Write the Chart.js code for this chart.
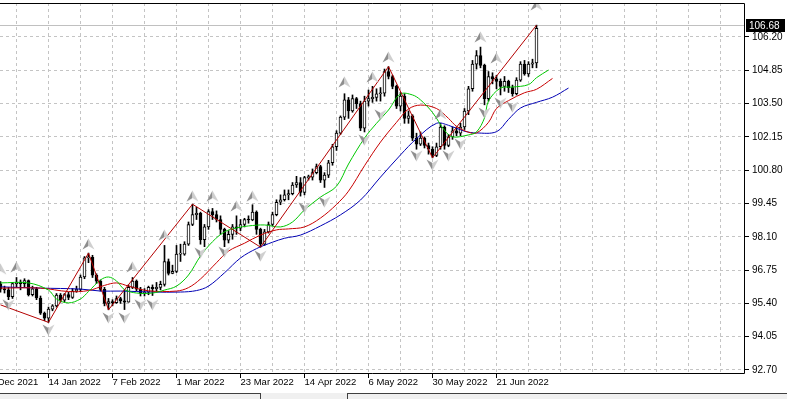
<!DOCTYPE html>
<html><head><meta charset="utf-8">
<script src="https://cdn.jsdelivr.net/npm/chart.js@4"></script>
<style>html,body{margin:0;padding:0;background:#fff;overflow:hidden}</style>
</head><body>
<canvas id="c" width="787" height="399" style="display:block"></canvas>
<script>
// ---- data ----
const dateLabels = ['23 Dec 2021','14 Jan 2022','7 Feb 2022','1 Mar 2022','23 Mar 2022','14 Apr 2022','6 May 2022','30 May 2022','21 Jun 2022'];
const labelBars = [-4,12,28,44,60,76,92,108,124];
const gridBars = [-4,4,12,20,28,36,44,52,60,68,76,84,92,100,108,116,124,132,140,148,156,164,172,180];
const priceTicks = [92.70,94.05,95.40,96.75,98.10,99.45,100.80,102.15,103.50,104.85,106.20];
const lastPrice = 106.68;

const opens = [96.19,95.98,95.95,95.67,96.20,96.26,96.20,96.32,95.75,95.99,95.62,95.00,94.80,95.17,95.30,95.74,95.53,95.76,95.64,95.90,
95.97,96.47,97.25,97.27,96.54,96.30,95.97,95.40,95.47,95.43,95.60,95.50,95.45,96.05,96.30,95.98,95.80,95.85,96.05,96.00,
96.05,96.17,97.10,96.62,96.70,97.40,97.40,97.80,98.60,99.00,99.05,97.98,98.50,99.12,99.00,98.80,98.40,97.96,98.20,98.50,
98.45,98.60,98.80,98.78,99.10,98.40,97.80,98.30,98.60,99.00,99.50,99.60,99.80,99.85,100.20,100.30,99.90,100.50,100.52,100.70,
100.95,100.40,100.60,101.10,101.75,102.30,102.95,103.65,103.20,103.70,103.50,102.50,103.60,103.70,103.75,103.90,103.92,104.80,104.60,104.20,
103.40,103.80,102.90,103.00,102.10,101.85,102.10,101.80,101.65,101.40,101.75,102.55,101.80,102.15,102.40,102.30,102.55,103.20,104.10,105.10,
105.45,105.05,103.70,104.60,104.50,104.40,104.20,104.40,104.15,103.90,104.45,105.10,104.70,105.10,105.15];
const highs = [96.28,96.10,96.05,96.25,96.45,96.35,96.40,96.35,96.10,96.05,95.70,95.05,95.25,95.35,95.80,95.80,95.80,95.85,96.00,96.10,
96.55,97.30,97.44,97.35,96.60,96.35,96.05,95.60,95.55,95.70,95.65,95.95,96.15,96.45,96.35,96.05,96.00,96.10,96.15,96.25,
96.30,97.75,97.20,96.95,97.75,97.80,97.90,98.70,99.42,99.30,99.10,98.60,99.20,99.25,99.15,98.95,98.45,98.35,98.60,98.95,
98.80,98.85,98.95,99.40,99.15,98.45,98.40,98.70,99.10,99.60,99.80,100.00,100.00,100.30,100.55,100.50,100.55,100.60,100.85,101.05,
101.00,100.70,101.20,101.85,102.40,103.00,103.90,103.75,103.85,103.75,103.60,103.80,104.05,104.20,104.10,104.15,104.90,105.00,104.65,104.25,
103.95,103.90,103.20,103.05,102.30,102.35,102.15,101.90,101.75,101.90,102.70,102.60,102.25,102.55,102.55,102.70,103.30,104.20,105.25,105.65,
105.79,105.10,104.80,104.75,104.65,104.50,104.60,104.45,104.25,104.55,105.20,105.25,105.20,105.30,106.68];
const lows = [95.85,95.82,95.55,95.60,96.05,95.95,96.05,95.70,95.70,95.55,94.95,94.70,94.63,95.10,95.25,95.45,95.45,95.55,95.60,95.85,
95.90,96.40,97.05,96.45,96.20,95.90,95.30,95.14,95.30,95.40,95.40,95.15,95.45,96.00,95.90,95.70,95.70,95.75,95.72,95.90,
95.95,96.10,96.55,96.60,96.65,97.10,97.35,97.75,98.55,98.80,97.80,97.70,98.40,98.80,98.70,98.20,97.70,97.85,98.00,98.20,
98.35,98.50,98.65,98.75,98.20,97.68,97.75,98.25,98.55,98.95,99.40,99.55,99.60,99.80,100.10,99.75,99.80,100.40,100.40,100.65,
100.30,100.10,100.50,101.00,101.60,102.25,102.85,102.90,103.15,103.30,102.40,102.35,103.40,103.55,103.60,103.60,103.80,104.50,104.10,103.30,
103.20,102.70,102.70,102.00,101.65,101.80,101.70,101.45,101.30,101.35,101.65,101.65,101.75,102.05,102.20,102.20,102.45,103.05,104.00,104.90,
104.95,103.45,103.60,104.30,104.10,103.85,104.00,103.95,103.80,103.85,104.40,104.65,104.60,104.95,104.95];
const closes = [95.98,95.95,95.67,96.20,96.26,96.20,96.32,95.75,95.99,95.62,95.00,94.80,95.17,95.30,95.74,95.53,95.76,95.64,95.90,95.97,
96.47,97.25,97.27,96.54,96.30,95.97,95.40,95.47,95.43,95.60,95.50,95.45,96.05,96.30,95.98,95.80,95.85,96.05,96.00,96.05,
96.17,97.10,96.62,96.70,97.40,97.40,97.80,98.60,99.00,99.05,97.98,98.50,99.12,99.00,98.80,98.40,97.96,98.20,98.50,98.45,
98.60,98.80,98.78,99.10,98.40,97.80,98.30,98.60,99.00,99.50,99.60,99.80,99.85,100.20,100.30,99.90,100.50,100.52,100.70,100.95,
100.40,100.60,101.10,101.75,102.30,102.95,103.65,103.20,103.70,103.50,102.50,103.60,103.70,103.75,103.90,103.92,104.80,104.60,104.20,103.40,
103.80,102.90,103.00,102.10,101.85,102.10,101.80,101.65,101.40,101.75,102.55,101.80,102.15,102.40,102.30,102.55,103.20,104.10,105.10,105.45,
105.05,103.70,104.60,104.50,104.40,104.20,104.40,104.15,103.90,104.45,105.10,104.70,105.10,105.15,106.55];

// Alligator lines (bar index, price)
const jawBars = [0,10,20,25,30,38,45,49,52,56,60,64,68,71,75,80,85,90,95,100,104,109,112,116,119,124,127,130,134,138,142];
const jawVals = [96.07,96.02,95.98,95.90,95.90,95.86,95.86,95.92,96.10,96.64,97.24,97.62,97.88,98.04,98.17,98.54,98.99,99.59,100.52,101.42,102.08,102.70,102.62,102.38,102.31,102.36,102.86,103.32,103.55,103.76,104.13];
const teethBars = [0,10,17,22,26,29,32,37,44,47,50,54,57,61,65,69,72,76,80,84,87,91,95,99,102,105,109,112,114,117,119,122,124,127,131,134,138];
const teethVals = [96.02,96.02,95.88,95.92,96.13,96.23,96.10,95.91,95.90,96.04,96.39,97.05,97.52,97.84,98.17,98.38,98.42,98.50,98.86,99.41,99.95,100.98,101.94,102.74,103.28,103.44,103.30,102.90,102.58,102.34,102.31,102.74,103.30,103.62,103.94,104.08,104.52];
const lipsBars = [0,7,12,14,17,20,22,25,27,29,31,34,38,41,44,47,50,53,56,59,62,66,70,73,76,80,84,87,91,94,97,100,103,105,108,111,113,117,119,121,122,125,128,132,134,137];
const lipsVals = [96.23,96.23,95.94,95.58,95.42,95.58,95.88,96.35,96.47,96.31,95.96,95.82,95.82,95.94,96.10,96.55,97.32,97.90,98.30,98.46,98.54,98.58,98.50,98.70,99.19,99.71,100.15,101.05,102.10,102.70,103.24,103.89,103.85,103.65,103.14,102.42,102.15,102.23,102.35,102.92,103.60,104.13,104.17,104.27,104.55,104.86];

// ZigZag vertices
const zigBars = [0,12,22,27,48,65,97,108,134];
const zigVals = [95.34,94.63,97.44,95.14,99.42,97.68,105.00,101.30,106.68];

// Fractal marks (bar index, price level of the mark)
const fracUpBars = [0,4,22,33,41,48,53,59,63,86,93,97,110,120,124,134];
const fracUpVals = [96.79,96.88,97.81,96.88,98.17,99.75,99.75,99.35,99.75,104.38,104.58,105.39,103.08,106.20,105.35,107.50];
const fracDnBars = [2,12,27,31,35,38,50,56,65,76,81,91,95,104,108,112,115,121,125,128];
const fracDnVals = [95.34,94.32,94.81,94.81,95.34,95.34,97.44,97.48,97.32,99.27,99.51,102.02,103.04,101.38,101.01,101.38,101.86,103.12,103.52,103.36];

// ---- helpers ----
const pts = (bs, vs) => bs.map((b, i) => ({x: b, y: vs[i]}));
function arrowImg(up) {
  const c = document.createElement('canvas'); c.width = 13; c.height = 12;
  const g = c.getContext('2d');
  if (!up) { g.translate(0, 12); g.scale(1, -1); }
  g.beginPath(); g.moveTo(6.5, 0.5); g.lineTo(0.5, 11.5); g.lineTo(6.5, 8); g.closePath();
  g.fillStyle = '#8e8e8e'; g.fill();
  g.beginPath(); g.moveTo(6.5, 0.5); g.lineTo(12.5, 11.5); g.lineTo(6.5, 8); g.closePath();
  g.fillStyle = '#cfcfcf'; g.fill();
  return c;
}

const YFONT = {family: 'Liberation Sans', size: 10};
const XFONT = {family: 'Liberation Sans', size: 9.5};

const mt4 = {
  id: 'mt4',
  beforeDatasetsDraw(chart) {
    const {ctx, chartArea: a, scales: {x, y}} = chart;
    ctx.save();
    ctx.strokeStyle = '#c4c4c4'; ctx.lineWidth = 1; ctx.setLineDash([3, 3]);
    ctx.beginPath();
    priceTicks.forEach(v => { const py = Math.floor(y.getPixelForValue(v)) + 0.5; ctx.moveTo(a.left, py); ctx.lineTo(a.right, py); });
    gridBars.forEach(b => { const px = Math.floor(x.getPixelForValue(b)) + 0.5; if (px > a.left && px < a.right) { ctx.moveTo(px, a.top); ctx.lineTo(px, a.bottom); } });
    ctx.stroke();
    ctx.setLineDash([]);
    ctx.strokeStyle = '#c0c0c0';
    const ly = Math.floor(y.getPixelForValue(lastPrice)) + 0.5;
    ctx.beginPath(); ctx.moveTo(a.left, ly); ctx.lineTo(a.right, ly); ctx.stroke();
    ctx.restore();
  },
  afterDraw(chart) {
    const {ctx, chartArea: a, scales: {x, y}} = chart;
    ctx.save();
    ctx.strokeStyle = '#000'; ctx.lineWidth = 1;
    ctx.beginPath();
    ctx.moveTo(0, a.top + 0.5); ctx.lineTo(a.right + 0.5, a.top + 0.5);
    ctx.lineTo(a.right + 0.5, a.bottom + 0.5); ctx.lineTo(0, a.bottom + 0.5);
    priceTicks.forEach(v => { const py = Math.floor(y.getPixelForValue(v)) + 0.5; ctx.moveTo(a.right, py); ctx.lineTo(a.right + 5, py); });
    labelBars.forEach(b => { const px = Math.floor(x.getPixelForValue(b)) + 0.5; if (px > 0) { ctx.moveTo(px, a.bottom); ctx.lineTo(px, a.bottom + 5); } });
    ctx.stroke();
    // last price label
    const ly = Math.floor(y.getPixelForValue(lastPrice));
    ctx.fillStyle = '#000';
    ctx.fillRect(a.right + 2, ly - 6, 39, 13);
    ctx.fillStyle = '#fff';
    ctx.font = '10px "Liberation Sans"';
    ctx.textBaseline = 'middle'; ctx.textAlign = 'left';
    ctx.fillText(lastPrice.toFixed(2), a.right + 5, ly + 1);
    // bottom strip
    ctx.fillStyle = '#f0f0f0'; ctx.fillRect(0, 393, 787, 6);
    ctx.strokeStyle = '#404040';
    ctx.beginPath(); ctx.moveTo(0, 393.5); ctx.lineTo(260, 393.5); ctx.moveTo(347, 393.5); ctx.lineTo(787, 393.5);
    ctx.moveTo(260.5, 393); ctx.lineTo(260.5, 399); ctx.moveTo(347.5, 393); ctx.lineTo(347.5, 399); ctx.stroke();
    ctx.restore();
  }
};

new Chart(document.getElementById('c'), {
  type: 'bar',
  data: {
    datasets: [
      { type: 'bar', data: highs.map((h, i) => ({x: i, y: [lows[i], h]})), backgroundColor: '#000', borderWidth: 0,
        barThickness: 1, grouped: false, order: 20 },
      { type: 'bar', data: opens.map((o, i) => ({x: i, y: [o, closes[i]]})),
        backgroundColor: opens.map((o, i) => closes[i] >= o ? '#ffffff' : '#000000'),
        borderColor: '#000', borderWidth: 1, borderSkipped: false, barThickness: 3, minBarLength: 1, grouped: false, order: 19 },
      { type: 'line', data: pts(jawBars, jawVals), borderColor: '#0000b4', borderWidth: 1, pointRadius: 0, tension: 0.35, order: 8 },
      { type: 'line', data: pts(teethBars, teethVals), borderColor: '#c80000', borderWidth: 1, pointRadius: 0, tension: 0.35, order: 7 },
      { type: 'line', data: pts(lipsBars, lipsVals), borderColor: '#00c800', borderWidth: 1, pointRadius: 0, tension: 0.35, order: 6 },
      { type: 'line', data: pts(zigBars, zigVals), borderColor: '#b40000', borderWidth: 1, pointRadius: 0, tension: 0, order: 5 },
      { type: 'scatter', data: pts(fracUpBars, fracUpVals), pointStyle: arrowImg(true), order: 2 },
      { type: 'scatter', data: pts(fracDnBars, fracDnVals), pointStyle: arrowImg(false), order: 1 }
    ]
  },
  options: {
    responsive: false, devicePixelRatio: 1, animation: false, events: [],
    layout: { padding: {top: 3, left: 0, right: 0, bottom: 0}, autoPadding: false },
    plugins: { legend: {display: false}, tooltip: {enabled: false} },
    scales: {
      x: {
        type: 'linear', offset: false, min: -0.125, max: 185.875,
        grid: {display: false, drawTicks: false}, border: {display: false},
        afterBuildTicks: s => { s.ticks = gridBars.map(v => ({value: v})); },
        afterFit: s => { s.height = 26; s.paddingLeft = 0; s.paddingRight = 0; },
        ticks: { autoSkip: false, maxRotation: 0, minRotation: 0, align: 'start', padding: 4, color: '#000', font: XFONT,
          callback: v => { const k = labelBars.indexOf(v); return k >= 0 ? dateLabels[k] : ''; } }
      },
      y: {
        type: 'linear', position: 'right', min: 92.578, max: 107.578,
        grid: {display: false, drawTicks: false}, border: {display: false},
        afterBuildTicks: s => { s.ticks = priceTicks.map(v => ({value: v})); },
        afterFit: s => { s.width = 43; s.paddingTop = 0; s.paddingBottom = 0; },
        ticks: { padding: 8, color: '#000', font: YFONT, callback: v => Number(v).toFixed(2) }
      }
    }
  },
  plugins: [mt4]
});
</script>
</body></html>
